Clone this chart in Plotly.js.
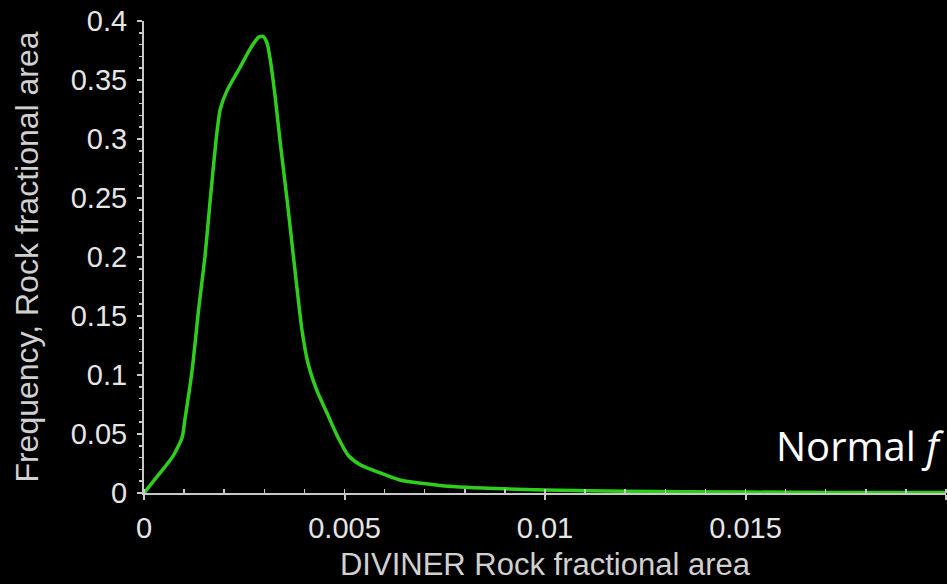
<!DOCTYPE html>
<html>
<head>
<meta charset="utf-8">
<script src="https://cdn.plot.ly/plotly-3.0.1.min.js"></script>
<style>
html,body{margin:0;padding:0;background:#000;}
#chart{width:947px;height:584px;}
</style>
</head>
<body>
<div id="chart"></div>
<script>
// Curve data
const rockFraction = [0, 0.0004, 0.00072, 0.00095, 0.00102, 0.0012, 0.00137, 0.00152, 0.00165, 0.0018, 0.0019, 0.00207, 0.0024, 0.00264, 0.00285, 0.00297, 0.00307, 0.00314, 0.00327, 0.00339, 0.00357, 0.00379, 0.00394, 0.00409, 0.00431, 0.00456, 0.00484, 0.00509, 0.00539, 0.00589, 0.00638, 0.0075, 0.009, 0.01, 0.012, 0.015, 0.0175, 0.02];
const frequency   = [0, 0.017, 0.031, 0.047, 0.062, 0.104, 0.158, 0.2, 0.248, 0.3, 0.325, 0.341, 0.361, 0.376, 0.386, 0.387, 0.381, 0.369, 0.336, 0.299, 0.248, 0.181, 0.138, 0.110, 0.087, 0.068, 0.047, 0.032, 0.024, 0.017, 0.011, 0.006, 0.0035, 0.0025, 0.0015, 0.0008, 0.0005, 0.0004];

const xTickVals = [0, 0.005, 0.01, 0.015, 0.02];
const xTickText = ["0", "0.005", "0.01", "0.015", ""];

const xTitle = "DIVINER Rock fractional area";
const yTitle = "Frequency, Rock fractional area";
const noteText = "Normal <i>f</i>";

const axisColor = "#c8c8c8";
const textColor = "#e6e6e6";

const trace = {
  x: rockFraction,
  y: frequency,
  type: "scatter",
  mode: "lines",
  line: {color: "#2fce1c", width: 3.5, shape: "spline", smoothing: 0.6},
  hoverinfo: "skip",
  cliponaxis: false
};

const layout = {
  width: 947,
  height: 584,
  paper_bgcolor: "#000",
  plot_bgcolor: "#000",
  margin: {l: 144, r: 1, t: 21, b: 91, pad: 0},
  showlegend: false,
  font: {family: "Liberation Sans, Arial, sans-serif", color: textColor},
  xaxis: {
    range: [0, 0.02],
    showgrid: false,
    zeroline: false,
    showline: true,
    linecolor: axisColor,
    linewidth: 2,
    ticks: "outside",
    ticklen: 5,
    tickwidth: 2,
    tickcolor: axisColor,
    tickmode: "array",
    tickvals: xTickVals,
    ticktext: xTickText,
    tickfont: {size: 29, color: textColor},
    ticklabelstandoff: 3,
    minor: {dtick: 0.001, ticks: "inside", ticklen: 4, tickwidth: 1.5, tickcolor: axisColor, showgrid: false},
    title: {text: xTitle, font: {size: 31, color: "#d0d0d0"}, standoff: 11}
  },
  yaxis: {
    range: [0, 0.4],
    showgrid: false,
    zeroline: false,
    showline: true,
    linecolor: axisColor,
    linewidth: 2,
    ticks: "outside",
    ticklen: 5,
    tickwidth: 2,
    tickcolor: axisColor,
    dtick: 0.05,
    tick0: 0,
    tickfont: {size: 29, color: textColor},
    ticklabelstandoff: 4,
    minor: {dtick: 0.01, ticks: "outside", ticklen: 3, tickwidth: 1.5, tickcolor: axisColor, showgrid: false},
    title: {text: yTitle, font: {size: 32, color: "#d0d0d0"}, standoff: 23}
  },
  annotations: [{
    text: noteText,
    xref: "paper", yref: "paper",
    x: 1.0, y: 0.1,
    xanchor: "right", yanchor: "middle",
    showarrow: false,
    font: {family: "Open Sans, sans-serif", size: 40, color: "#ffffff"}
  }]
};

Plotly.newPlot("chart", [trace], layout, {displayModeBar: false, staticPlot: true});
</script>
</body>
</html>
